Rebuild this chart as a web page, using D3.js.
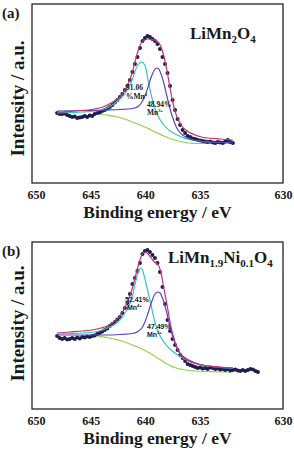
<!DOCTYPE html>
<html><head><meta charset="utf-8">
<script src="https://cdn.jsdelivr.net/npm/d3@7"></script>
<style>html,body{margin:0;padding:0;background:#fff;}svg{display:block;}</style>
</head><body>
<svg id="c" width="294" height="453"></svg>
<script>
// ---------- DATA ----------
const xTicks = [650, 645, 640, 635, 630];
// tick values whose labels the original places (the last gap is printed wider)
const xBreaks = [650, 635, 630];

// Panel (a) LiMn2O4 : [binding energy (eV), intensity (a.u.)]
const aData = [[648.07,70],[647.84,69],[647.61,69],[647.38,69.5],[647.15,68],[646.92,67],[646.69,66],[646.46,66.5],[646.23,65],[646.00,65.5],[645.77,66],[645.54,67],[645.32,66],[645.09,67.5],[644.86,67],[644.63,69],[644.40,70],[644.17,70.5],[643.94,72],[643.71,73],[643.48,74.5],[643.25,76],[643.02,78],[642.79,80.5],[642.56,83],[642.33,86],[642.10,89],[641.87,93],[641.64,97],[641.41,103],[641.18,111],[640.95,119],[640.72,126],[640.49,135],[640.26,142],[640.04,145],[639.81,147],[639.58,146],[639.35,144],[639.12,142],[638.89,139],[638.66,134],[638.43,126],[638.20,119],[637.97,110],[637.74,97],[637.51,83],[637.28,73],[637.05,64],[636.82,58],[636.59,53],[636.36,50],[636.13,47],[635.90,46],[635.67,44.5],[635.44,44],[635.21,43],[634.99,42.5],[634.84,42],[634.69,41.5],[634.54,41],[634.39,41.5],[634.23,40.5],[634.08,40],[633.93,41],[633.78,40.5],[633.63,40],[633.48,41.5],[633.33,43],[633.18,41],[633.02,40]];
const aEnvelope = [[648.07,71],[647.50,71],[646.92,71.5],[646.35,72],[645.77,72.5],[645.20,73],[644.63,74],[644.05,75.5],[643.48,78],[642.90,81.5],[642.33,86],[641.76,95],[641.18,111],[640.90,123],[640.61,134],[640.32,141],[640.04,143],[639.75,144],[639.46,143.5],[639.17,143],[638.89,141.5],[638.60,137],[638.31,127],[638.03,113],[637.74,95],[637.45,79],[637.17,68],[636.88,61],[636.59,56],[636.02,51],[635.44,48],[634.91,46],[634.54,45],[633.78,44],[633.02,43]];
const aMn4 = [[648.07,70],[646.92,70.5],[645.77,71],[644.63,72],[644.05,73],[643.48,75],[642.90,79],[642.33,84],[641.76,91],[641.18,104],[640.90,113],[640.61,119],[640.38,121],[640.04,118],[639.75,103],[639.46,88],[639.17,76],[638.89,68],[638.31,58],[637.74,52],[637.17,48.5],[636.59,45.5],[636.02,43.5],[635.44,42.5],[634.54,41],[633.78,40.5],[633.02,40.5]];
const aMn3 = [[648.07,72],[645.77,72.5],[643.48,73],[642.33,73.5],[641.18,74.5],[640.61,77],[640.26,82],[640.04,87],[639.75,96],[639.46,106],[639.17,113],[639.00,115],[638.77,114],[638.60,110],[638.31,100],[638.03,87],[637.74,74],[637.45,64],[637.17,56],[636.88,51],[636.59,48],[636.02,44.5],[635.44,42.5],[634.54,41],[633.78,40.5],[633.02,40.5]];
const aBackground = [[644.63,69.5],[643.48,68],[642.33,65.5],[641.76,63.5],[641.18,61],[640.61,58.5],[640.04,56],[639.46,53],[638.89,50],[638.31,47],[637.74,44.5],[637.17,42.5],[636.59,41],[636.02,40],[635.44,39.5],[634.54,39.5],[633.78,39.5],[633.02,39.5]];

// Panel (b) LiMn1.9Ni0.1O4
const bData = [[648.07,73],[647.84,71],[647.61,70],[647.38,71],[647.15,69.5],[646.92,70],[646.69,71],[646.46,70],[646.23,71.5],[646.00,70.5],[645.77,72],[645.54,71.5],[645.32,72.5],[645.09,72],[644.86,73],[644.63,73.5],[644.40,75],[644.17,76],[643.94,77.5],[643.71,79],[643.48,80.5],[643.25,83],[643.02,85],[642.79,87],[642.56,89.5],[642.33,92],[642.10,96],[641.87,101],[641.64,106],[641.41,115],[641.18,125],[640.95,131],[640.72,138],[640.49,146],[640.26,155],[640.04,158],[639.81,159],[639.58,157],[639.35,154],[639.12,151],[638.89,146],[638.66,137],[638.43,122],[638.20,105],[637.97,89],[637.74,78],[637.51,70],[637.28,64],[637.05,59],[636.82,54],[636.59,51],[636.36,48],[636.13,45],[635.90,44],[635.67,43],[635.44,42],[635.21,41],[634.99,41.5],[634.84,40.5],[634.69,41],[634.54,40],[634.39,41.5],[634.23,41],[634.08,40],[633.93,40.5],[633.78,39.5],[633.63,40],[633.48,39],[633.33,40],[633.18,38.5],[633.02,39],[632.87,39.5],[632.72,38.5],[632.57,38],[632.42,39],[632.27,38],[632.12,39],[631.97,40],[631.81,39.5],[631.66,38],[631.51,37]];
const bEnvelope = [[648.07,76],[646.92,77],[645.77,78],[644.63,79.5],[644.05,81],[643.48,83],[642.90,87],[642.33,93],[641.76,104],[641.18,121],[640.90,133],[640.61,145],[640.32,154],[640.04,157],[639.75,155],[639.46,151],[639.17,147],[638.89,145],[638.60,138],[638.31,121],[638.03,105],[637.74,87],[637.45,73],[637.17,63],[636.88,56],[636.59,52],[636.02,48],[635.44,45.5],[634.91,44],[634.54,43],[633.78,42],[633.02,41]];
const bMn4 = [[648.07,75],[646.92,75.5],[645.77,76],[644.63,77],[644.05,78.5],[643.48,81],[642.90,84],[642.33,89],[641.76,98],[641.18,113],[640.90,127],[640.61,138],[640.44,141],[640.26,139],[640.04,130],[639.75,117],[639.46,103],[639.17,89],[638.89,79],[638.31,67],[637.74,60],[637.17,55],[636.59,51],[636.02,48],[635.44,46],[634.54,43],[633.78,41.5],[633.02,41]];
const bMn3 = [[648.07,74],[645.77,74],[643.48,74],[642.33,74.5],[641.18,75.5],[640.61,78],[640.26,82],[640.04,87],[639.75,96],[639.46,106],[639.17,114],[638.89,117],[638.66,116],[638.43,111],[638.20,103],[637.97,93],[637.74,82],[637.45,71],[637.17,63],[636.88,57],[636.59,53],[636.02,49],[635.44,46],[634.54,43],[633.78,41.5],[633.02,41]];
const bBackground = [[645.09,74],[644.63,73.5],[644.05,72.5],[643.48,71.5],[642.90,70],[642.33,68.5],[641.76,66.5],[641.18,64],[640.61,61.5],[640.04,58.5],[639.46,55],[638.89,51],[638.31,47],[637.74,43.5],[637.17,41],[636.59,39.5],[636.02,38.5],[635.44,38],[634.54,37.5],[633.78,37],[633.02,37]];

// ---------- DRAW ----------
const svg = d3.select("#c");
const serif = "'Liberation Serif','Times New Roman',serif";
const sans = "'Liberation Sans',Arial,sans-serif";
const COLORS = {env:"#c3336a", mn4:"#33c6bf", mn3:"#5a45c6", bg:"#93d24c", dot:"#1d1d4f"};
const INK = "#1a1a1a";

function panel(cfg){
  const g = svg.append("g");
  const x = d3.scaleLinear().domain(xBreaks).range([cfg.left+4, 200, cfg.right]);
  const y = d3.scaleLinear().domain([0, cfg.ymax]).range([cfg.bottom, cfg.top]);

  g.append("rect").attr("x",cfg.left).attr("y",cfg.top)
    .attr("width",cfg.right-cfg.left).attr("height",cfg.bottom-cfg.top)
    .attr("fill","none").attr("stroke","#111").attr("stroke-width",1.2);

  const ax = d3.axisBottom(x).tickValues(xTicks).tickSize(0).tickPadding(7).tickFormat(d3.format("d"));
  const axg = g.append("g").attr("transform",`translate(0,${cfg.bottom})`).call(ax);
  axg.select(".domain").remove();
  axg.selectAll("text").attr("font-family",serif).attr("font-weight","bold")
     .attr("font-size",12).attr("fill",INK);

  const line = d3.line().x(d=>x(d[0])).y(d=>y(d[1])).curve(d3.curveMonotoneX);
  const lw = 1.2;
  g.append("path").datum(cfg.bg).attr("d",line).attr("fill","none").attr("stroke",COLORS.bg).attr("stroke-width",lw);

  g.selectAll("circle.dot").data(cfg.data).enter().append("circle")
    .attr("cx",d=>x(d[0])).attr("cy",d=>y(d[1])).attr("r",2).attr("fill",COLORS.dot);

  g.append("path").datum(cfg.mn4).attr("d",line).attr("fill","none").attr("stroke",COLORS.mn4).attr("stroke-width",lw);
  g.append("path").datum(cfg.mn3).attr("d",line).attr("fill","none").attr("stroke",COLORS.mn3).attr("stroke-width",lw);
  g.append("path").datum(cfg.env).attr("d",line).attr("fill","none").attr("stroke",COLORS.env).attr("stroke-width",lw);

  g.append("text").attr("x",2).attr("y",cfg.top+cfg.letterDy).text(cfg.letter)
    .attr("font-family",serif).attr("font-weight","bold").attr("font-size",15).attr("fill",INK);

  g.append("text").attr("transform",`translate(${cfg.left-8},${(cfg.top+cfg.bottom)/2+cfg.ylabDy}) rotate(-90)`)
    .attr("text-anchor","middle").text("Intensity / a.u.")
    .attr("font-family",serif).attr("font-weight","bold").attr("font-size",19).attr("fill",INK);

  g.append("text").attr("x",(cfg.left+cfg.right)/2).attr("y",cfg.bottom+35).attr("text-anchor","middle")
    .text("Binding energy / eV")
    .attr("font-family",serif).attr("font-weight","bold").attr("font-size",17.5).attr("fill",INK);

  const t = g.append("text").attr("x",cfg.titleX).attr("y",cfg.titleY)
    .attr("font-family",serif).attr("font-weight","bold").attr("font-size",17).attr("fill",INK);
  cfg.title.forEach(p=>{
    const s = t.append("tspan").text(p.t);
    if(p.sub){ s.attr("font-size",11).attr("dy",4); }
    else if(p.after){ s.attr("dy",-4); }
  });

  cfg.notes.forEach(n=>{
    const tx = g.append("text").attr("x",n.x).attr("y",n.y)
      .attr("font-family",n.font).attr("font-weight","bold").attr("font-size",n.size).attr("fill",INK);
    tx.append("tspan").text(n.t);
    if(n.sup) tx.append("tspan").text(n.sup).attr("font-size",n.size*0.6).attr("dy",-3);
  });
}

panel({
  left:32, right:283, top:4, bottom:183, ymax:179, letter:"(a)", letterDy:14, ylabDy:5,
  data:aData, env:aEnvelope, mn4:aMn4, mn3:aMn3, bg:aBackground,
  titleX:190, titleY:39,
  title:[{t:"LiMn"},{t:"2",sub:true},{t:"O",after:true},{t:"4",sub:true}],
  notes:[
    {t:"51.06", x:126, y:90, font:serif, size:7.5},
    {t:"%Mn", sup:"4", x:126, y:99, font:serif, size:7.5},
    {t:"48.94%", x:147, y:107, font:serif, size:7.5},
    {t:"Mn", sup:"3+", x:147, y:115, font:serif, size:7.5}
  ]
});

panel({
  left:32, right:283, top:242, bottom:409, ymax:167, letter:"(b)", letterDy:14, ylabDy:-2,
  data:bData, env:bEnvelope, mn4:bMn4, mn3:bMn3, bg:bBackground,
  titleX:168, titleY:263,
  title:[{t:"LiMn"},{t:"1.9",sub:true},{t:"Ni",after:true},{t:"0.1",sub:true},{t:"O",after:true},{t:"4",sub:true}],
  notes:[
    {t:"52.41%", x:125, y:302, font:sans, size:7},
    {t:"Mn", sup:"4+", x:127, y:310, font:sans, size:7},
    {t:"47.49%", x:147, y:329, font:sans, size:7},
    {t:"Mn", sup:"3+", x:147, y:337, font:sans, size:7}
  ]
});
</script>
</body></html>
